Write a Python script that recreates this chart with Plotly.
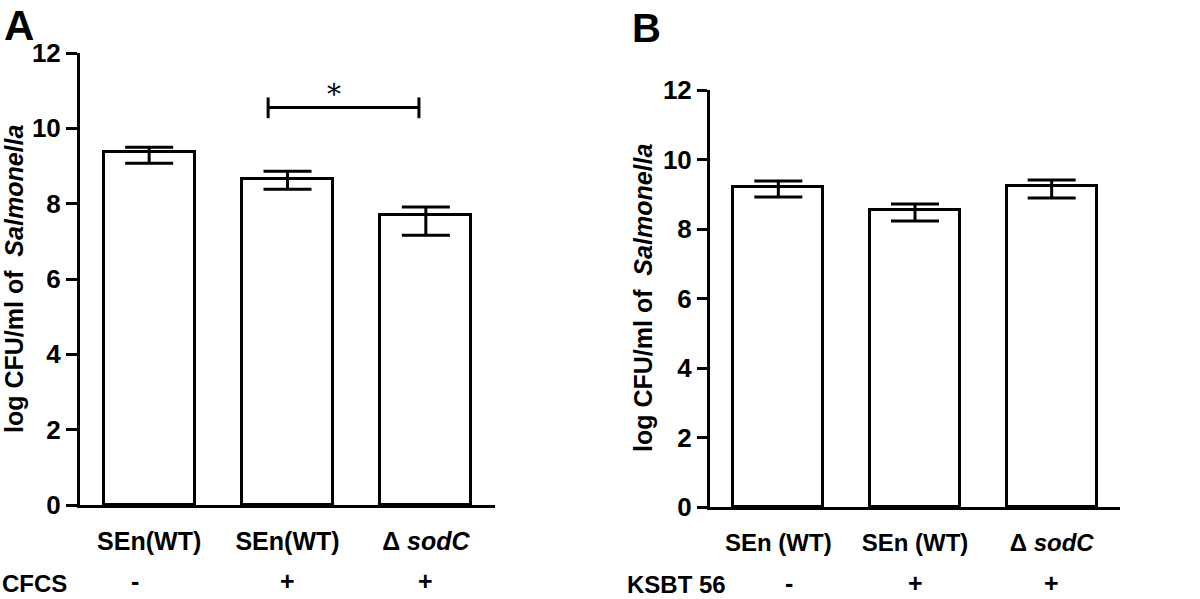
import plotly.graph_objects as go

# ---- data ----
cats_a = ["SEn(WT)", "SEn(WT)", "Δ <i>sodC</i>"]
treat_a = ["-", "+", "+"]
mean_a = [9.36, 8.65, 7.69]
errp_a = [0.14, 0.21, 0.22]
errm_a = [0.29, 0.27, 0.53]

cats_b = ["SEn (WT)", "SEn (WT)", "Δ <i>sodC</i>"]
treat_b = ["-", "+", "+"]
mean_b = [9.21, 8.55, 9.24]
errp_b = [0.17, 0.17, 0.17]
errm_b = [0.29, 0.32, 0.35]

yticks = [0, 2, 4, 6, 8, 10, 12]
sig_pair_a = (1, 2)
sig_level_a = 10.55

FONT = "Liberation Sans, Arial, sans-serif"
W, H = 1200, 599

fig = go.Figure()

def add_bars(means, ep, em, xa, ya):
    fig.add_trace(go.Bar(
        x=list(range(len(means))), y=means, xaxis=xa, yaxis=ya,
        width=0.66,
        marker=dict(color="white", line=dict(color="black", width=3)),
        error_y=dict(type="data", symmetric=False, array=ep, arrayminus=em,
                     color="black", thickness=3, width=24),
        showlegend=False, hoverinfo="skip"))

add_bars(mean_a, errp_a, errm_a, "x", "y")
add_bars(mean_b, errp_b, errm_b, "x2", "y2")

axis_common = dict(showline=True, linecolor="black", linewidth=3,
                   showgrid=False, zeroline=False, automargin=False)

fig.update_layout(
    width=W, height=H,
    margin=dict(l=0, r=0, t=0, b=0, autoexpand=False),
    paper_bgcolor="white", plot_bgcolor="white",
    font=dict(family=FONT, color="black"),
    bargap=0,
    xaxis=dict(domain=[80 / W, 495 / W], range=[-0.5, 2.5], anchor="y",
               tickmode="array", tickvals=[0, 1, 2], ticktext=cats_a,
               ticks="", ticklabelstandoff=12,
               tickfont=dict(size=25, family=FONT, weight="bold"),
               **axis_common),
    yaxis=dict(domain=[1 - 505 / H, 1 - 53 / H], range=[0, 12], anchor="x",
               tickmode="array", tickvals=yticks,
               ticks="outside", ticklen=11, tickwidth=3, tickcolor="black",
               tickfont=dict(size=26, family=FONT, weight="bold"),
               **axis_common),
    xaxis2=dict(domain=[710 / W, 1120 / W], range=[-0.5, 2.5], anchor="y2",
                tickmode="array", tickvals=[0, 1, 2], ticktext=cats_b,
                ticks="", ticklabelstandoff=12,
                tickfont=dict(size=24, family=FONT, weight="bold"),
                **axis_common),
    yaxis2=dict(domain=[1 - 507 / H, 1 - 90 / H], range=[0, 12], anchor="x2",
                tickmode="array", tickvals=yticks,
                ticks="outside", ticklen=10, tickwidth=3, tickcolor="black",
                tickfont=dict(size=26, family=FONT, weight="bold"),
                **axis_common),
)

# significance bracket (panel A)
i0, i1 = sig_pair_a
bx0, bx1 = i0 - 0.14, i1 - 0.05
line = dict(color="black", width=3)
fig.add_shape(type="line", xref="x", yref="y", x0=bx0, x1=bx1,
              y0=sig_level_a, y1=sig_level_a, line=line)
for bx in (bx0, bx1):
    fig.add_shape(type="line", xref="x", yref="y", x0=bx, x1=bx,
                  y0=sig_level_a - 0.28, y1=sig_level_a + 0.27, line=line)
fig.add_annotation(x=bx0 + 0.44 * (bx1 - bx0), y=sig_level_a + 0.35,
                   xref="x", yref="y",
                   text="*", showarrow=False, yanchor="middle",
                   font=dict(size=28, family="DejaVu Serif", color="black"))

# panel letters
fig.add_annotation(x=2 / W, y=1 - 0 / H, xref="paper", yref="paper",
                   text="<b>A</b>", showarrow=False, xanchor="left",
                   yanchor="top", font=dict(size=42, family=FONT))
fig.add_annotation(x=630 / W, y=1 - 4 / H, xref="paper", yref="paper",
                   text="<b>B</b>", showarrow=False, xanchor="left",
                   yanchor="top", font=dict(size=40, family=FONT))

# y titles
fig.add_annotation(x=14 / W, y=1 - 279 / H, xref="paper", yref="paper",
                   text="<b>log CFU/ml of  <i>Salmonella</i></b>",
                   textangle=-90, showarrow=False, xanchor="center",
                   yanchor="middle", font=dict(size=25, family=FONT))
fig.add_annotation(x=643 / W, y=1 - 298 / H, xref="paper", yref="paper",
                   text="<b>log CFU/ml of  <i>Salmonella</i></b>",
                   textangle=-90, showarrow=False, xanchor="center",
                   yanchor="middle", font=dict(size=25, family=FONT))

# treatment rows
fig.add_annotation(x=0, y=1 - 583 / H, xref="paper", yref="paper",
                   text="<b>CFCS</b>", showarrow=False, xanchor="left",
                   yanchor="middle", font=dict(size=24, family=FONT))
for i, t in enumerate(treat_a):
    fig.add_annotation(x=i - (0.1 if t == "-" else 0), y=1 - 581 / H,
                       xref="x", yref="paper", text="<b>%s</b>" % t,
                       showarrow=False, yanchor="middle",
                       font=dict(size=25, family=FONT))
fig.add_annotation(x=625 / W, y=1 - 584 / H, xref="paper", yref="paper",
                   text="<b>KSBT 56</b>", showarrow=False, xanchor="left",
                   yanchor="middle", font=dict(size=24, family=FONT))
for i, t in enumerate(treat_b):
    fig.add_annotation(x=i + (0.08 if t == "-" else 0), y=1 - 583 / H,
                       xref="x2", yref="paper", text="<b>%s</b>" % t,
                       showarrow=False, yanchor="middle",
                       font=dict(size=25, family=FONT))

fig.write_html("out.html", config={"displayModeBar": False},
               post_script="document.body.style.margin='0px';"
                           "document.body.style.overflow='hidden';")
